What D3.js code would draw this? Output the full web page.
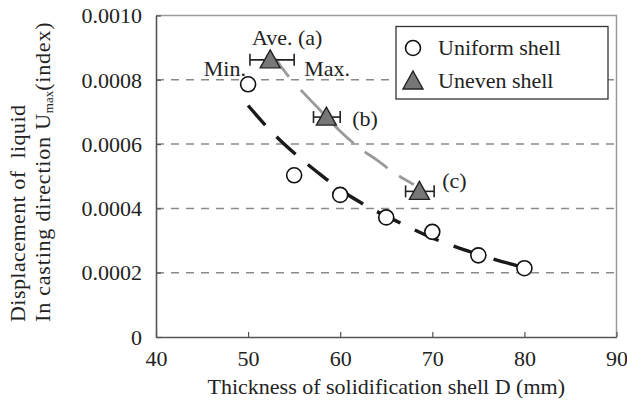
<!DOCTYPE html>
<html>
<head>
<meta charset="utf-8">
<script src="https://cdn.jsdelivr.net/npm/d3@7"></script>
<style>
  html, body { margin: 0; padding: 0; background: #fff; }
  svg { display: block; font-family: "Liberation Serif", "DejaVu Serif", serif; }
</style>
</head>
<body>
<div id="chart"></div>
<script>
// Uniform shell (circles)
const uniformX = [50, 55, 60, 65, 70, 75, 80];
const uniformY = [0.000786, 0.000503, 0.000442, 0.000372, 0.000327, 0.000254, 0.000214];

// Uneven shell (triangles) with min / max thickness range
const unevenX = [52.4, 58.5, 68.6];
const unevenY = [0.000862, 0.000684, 0.000453];
const unevenMin = [50.2, 57.1, 67.1];
const unevenMax = [55.0, 60.0, 70.2];

// Fitted curves
const uniformFitX = [50, 52, 54, 56, 58, 60, 62, 64, 66, 68, 70, 72, 74, 76, 78, 80];
const uniformFitY = [0.000720, 0.000655, 0.000598, 0.000548, 0.000502, 0.000458, 0.000422, 0.000390, 0.000362, 0.000334, 0.000308, 0.000286, 0.000266, 0.000248, 0.000231, 0.000216];
const unevenFitX = [53, 54, 56, 58, 60, 62, 64, 66, 68];
const unevenFitY = [0.000865, 0.000825, 0.000760, 0.000700, 0.000640, 0.000590, 0.000550, 0.000508, 0.000474];

// Axis ticks
const xTicks = [40, 50, 60, 70, 80, 90];
const yTicks = [0, 0.0002, 0.0004, 0.0006, 0.0008, 0.0010];
const yTickLabels = ['0', '0.0002', '0.0004', '0.0006', '0.0008', '0.0010'];

const width = 627, height = 401;
const plotLeft = 156, plotRight = 616.5, plotTop = 15.5, plotBottom = 337;
const fontSize = 22;

const svg = d3.select('#chart').append('svg')
    .attr('width', width)
    .attr('height', height);

const x = d3.scaleLinear().domain([40, 90]).range([plotLeft, plotRight]);
const y = d3.scaleLinear().domain([0, 0.001]).range([plotBottom, plotTop]);

// Dashed grid lines
svg.append('g')
    .selectAll('line')
    .data(yTicks.filter(d => d > 0 && d < 0.001))
    .join('line')
    .attr('x1', plotLeft)
    .attr('x2', plotRight)
    .attr('y1', d => y(d))
    .attr('y2', d => y(d))
    .attr('stroke', '#8a8a8a')
    .attr('stroke-width', 1.5)
    .attr('stroke-dasharray', '8,7');

// Frame: top and right are light gray
svg.append('path')
    .attr('d', `M${plotLeft},${plotTop}H${plotRight}V${plotBottom}`)
    .attr('fill', 'none')
    .attr('stroke', '#9a9a9a')
    .attr('stroke-width', 1.5);

// Axes with inward ticks
const xAxis = svg.append('g')
    .attr('transform', `translate(0,${plotBottom})`)
    .call(d3.axisBottom(x).tickValues(xTicks).tickSizeInner(-5).tickSizeOuter(0).tickPadding(13));
const yAxis = svg.append('g')
    .attr('transform', `translate(${plotLeft},0)`)
    .call(d3.axisLeft(y).tickValues(yTicks).tickSizeInner(-5).tickSizeOuter(0).tickPadding(14)
        .tickFormat((d, i) => yTickLabels[i]));

[xAxis, yAxis].forEach(a => {
    a.attr('font-family', null);
    a.select('.domain').attr('stroke', '#555').attr('stroke-width', 1.6);
    a.selectAll('.tick line').attr('stroke', '#555').attr('stroke-width', 1.2);
    a.selectAll('.tick text')
        .attr('font-family', '"Liberation Serif", serif')
        .attr('font-size', fontSize)
        .attr('fill', '#222');
});
xAxis.selectAll('.tick text').attr('dy', '0.71em');
yAxis.selectAll('.tick text').attr('dy', '0.33em');

// Axis titles
svg.append('text')
    .attr('x', (plotLeft + plotRight) / 2)
    .attr('y', 394)
    .attr('text-anchor', 'middle')
    .attr('font-size', fontSize)
    .attr('fill', '#222')
    .text('Thickness of solidification shell D (mm)');

svg.append('text')
    .attr('transform', 'translate(25,322) rotate(-90)')
    .attr('font-size', fontSize)
    .attr('fill', '#222')
    .attr('textLength', 217)
    .attr('lengthAdjust', 'spacing')
    .attr('xml:space', 'preserve')
    .text('Displacement of  liquid');

const yTitle2 = svg.append('text')
    .attr('transform', 'translate(50,322) rotate(-90)')
    .attr('font-size', fontSize)
    .attr('letter-spacing', 0.8)
    .attr('fill', '#222');
yTitle2.append('tspan').text('In casting direction U');
yTitle2.append('tspan').attr('font-size', 13).attr('dy', 3).attr('letter-spacing', 0).text('max');
yTitle2.append('tspan').attr('dy', -3).text('(index)');

// Fitted curves
const line = d3.line()
    .x(d => x(d[0]))
    .y(d => y(d[1]))
    .curve(d3.curveMonotoneX);

svg.append('path')
    .datum(unevenFitX.map((d, i) => [d, unevenFitY[i]]))
    .attr('d', line)
    .attr('fill', 'none')
    .attr('stroke', '#9a9a9a')
    .attr('stroke-width', 2.8)
    .attr('stroke-dasharray', '22,18,75,14,28,14,24,40');

svg.append('path')
    .datum(uniformFitX.map((d, i) => [d, uniformFitY[i]]))
    .attr('d', line)
    .attr('fill', 'none')
    .attr('stroke', '#1a1a1a')
    .attr('stroke-width', 3.4)
    .attr('stroke-dasharray', '26,16');

// Uniform shell circles
svg.append('g')
    .selectAll('circle')
    .data(uniformX.map((d, i) => [d, uniformY[i]]))
    .join('circle')
    .attr('cx', d => x(d[0]))
    .attr('cy', d => y(d[1]))
    .attr('r', 7.5)
    .attr('fill', '#fff')
    .attr('stroke', '#111')
    .attr('stroke-width', 1.6);

// Uneven shell: error bars and triangles
const tri = 'M0,-10L10,8L-10,8Z';
const uneven = unevenX.map((d, i) => ({ x: d, y: unevenY[i], lo: unevenMin[i], hi: unevenMax[i] }));

const eb = svg.append('g').attr('stroke', '#222').attr('stroke-width', 1.6);
uneven.forEach(d => {
    const cy = y(d.y);
    eb.append('line').attr('x1', x(d.lo)).attr('x2', x(d.hi)).attr('y1', cy).attr('y2', cy);
    eb.append('line').attr('x1', x(d.lo)).attr('x2', x(d.lo)).attr('y1', cy - 6).attr('y2', cy + 6);
    eb.append('line').attr('x1', x(d.hi)).attr('x2', x(d.hi)).attr('y1', cy - 6).attr('y2', cy + 6);
});

svg.append('g')
    .selectAll('path')
    .data(uneven)
    .join('path')
    .attr('d', tri)
    .attr('transform', d => `translate(${x(d.x)},${y(d.y)})`)
    .attr('fill', '#777')
    .attr('stroke', '#222')
    .attr('stroke-width', 1.4);

// Annotations
const ann = svg.append('g').attr('font-size', fontSize).attr('fill', '#222');
ann.append('text')
    .attr('x', x(unevenX[0]) + 17)
    .attr('y', y(unevenY[0]) - 15)
    .attr('text-anchor', 'middle')
    .text('Ave. (a)');
ann.append('text')
    .attr('x', x(unevenMin[0]) - 4)
    .attr('y', y(unevenY[0]) + 16)
    .attr('text-anchor', 'end')
    .text('Min.');
ann.append('text')
    .attr('x', x(unevenMax[0]) + 10)
    .attr('y', y(unevenY[0]) + 16)
    .text('Max.');
ann.append('text')
    .attr('x', x(unevenMax[1]) + 12)
    .attr('y', y(unevenY[1]) + 9)
    .text('(b)');
ann.append('text')
    .attr('x', x(unevenMax[2]) + 8)
    .attr('y', y(unevenY[2]) - 3)
    .text('(c)');

// Legend
const legend = svg.append('g');
legend.append('rect')
    .attr('x', 396)
    .attr('y', 26.5)
    .attr('width', 212)
    .attr('height', 72.5)
    .attr('fill', '#fff')
    .attr('stroke', '#333')
    .attr('stroke-width', 1.3);
legend.append('circle')
    .attr('cx', 413).attr('cy', 48).attr('r', 7.5)
    .attr('fill', '#fff').attr('stroke', '#111').attr('stroke-width', 1.6);
legend.append('path')
    .attr('d', tri)
    .attr('transform', 'translate(413,81)')
    .attr('fill', '#777').attr('stroke', '#222').attr('stroke-width', 1.4);
legend.append('text')
    .attr('x', 438).attr('y', 55)
    .attr('font-size', fontSize).attr('fill', '#222')
    .text('Uniform shell');
legend.append('text')
    .attr('x', 438).attr('y', 88)
    .attr('font-size', fontSize).attr('fill', '#222')
    .text('Uneven shell');
</script>
</body>
</html>
